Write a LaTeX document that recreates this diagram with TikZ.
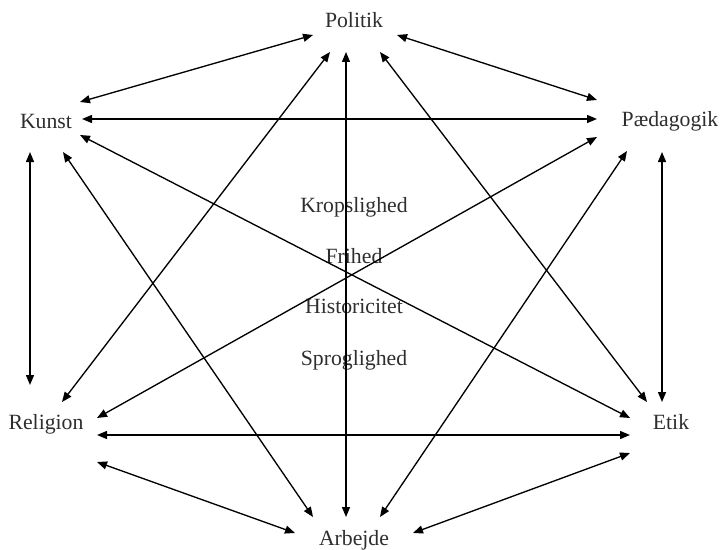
\documentclass[tikz,border=0pt]{standalone}
\usepackage{fontspec}
\setmainfont{Liberation Serif}
\usepackage{tikz}
\usetikzlibrary{arrows.meta}
\definecolor{ink}{HTML}{2E2E2E}

\begin{document}
\begin{tikzpicture}[
  x=0.75pt,y=-0.75pt,
  lbl/.style={anchor=base,text=ink,inner sep=0pt,font=\fontsize{16.3}{19}\selectfont},
  link/.style={{Triangle[length=7.5pt,width=6pt]}-{Triangle[length=7.5pt,width=6pt]},
               line width=1pt,black}
]
  \useasboundingbox (0,0) rectangle (723,549);
  \node[lbl] (politik) at (354,28) {Politik};
  \node[lbl] (kunst) at (46,128) {Kunst};
  \node[lbl] (paed) at (670,127) {Pædagogik};
  \node[lbl] (religion) at (46,429) {Religion};
  \node[lbl] (etik) at (671,429) {Etik};
  \node[lbl] (arbejde) at (354,545) {Arbejde};
  \node[lbl] (krop) at (354,212) {Kropslighed};
  \node[lbl] (frihed) at (354,263) {Frihed};
  \node[lbl] (hist) at (354,313) {Historicitet};
  \node[lbl] (sprog) at (354,365) {Sproglighed};
  \draw[link] ([shift={(34,-26)}]kunst.base) -- ([shift={(-41,7)}]politik.base);
  \draw[link] ([shift={(43,7)}]politik.base) -- ([shift={(-73,-27)}]paed.base);
  \draw[link] ([shift={(36,-9)}]kunst.base) -- ([shift={(-73,-8)}]paed.base);
  \draw[link] ([shift={(34,7)}]kunst.base) -- ([shift={(-41,-11)}]etik.base);
  \draw[link] ([shift={(17,24)}]kunst.base) -- ([shift={(-41,-28)}]arbejde.base);
  \draw[link] ([shift={(-16,24)}]kunst.base) -- ([shift={(-16,-44)}]religion.base);
  \draw[link] ([shift={(-24,24)}]politik.base) -- ([shift={(16,-27)}]religion.base);
  \draw[link] ([shift={(-8,24)}]politik.base) -- ([shift={(-8,-28)}]arbejde.base);
  \draw[link] ([shift={(26,24)}]politik.base) -- ([shift={(-24,-27)}]etik.base);
  \draw[link] ([shift={(-8,25)}]paed.base) -- ([shift={(-9,-27)}]etik.base);
  \draw[link] ([shift={(-73,10)}]paed.base) -- ([shift={(51,-11)}]religion.base);
  \draw[link] ([shift={(-43,24)}]paed.base) -- ([shift={(26,-28)}]arbejde.base);
  \draw[link] ([shift={(51,6)}]religion.base) -- ([shift={(-41,6)}]etik.base);
  \draw[link] ([shift={(51,33)}]religion.base) -- ([shift={(-59,-12)}]arbejde.base);
  \draw[link] ([shift={(-41,24)}]etik.base) -- ([shift={(59,-12)}]arbejde.base);
\end{tikzpicture}
\end{document}
